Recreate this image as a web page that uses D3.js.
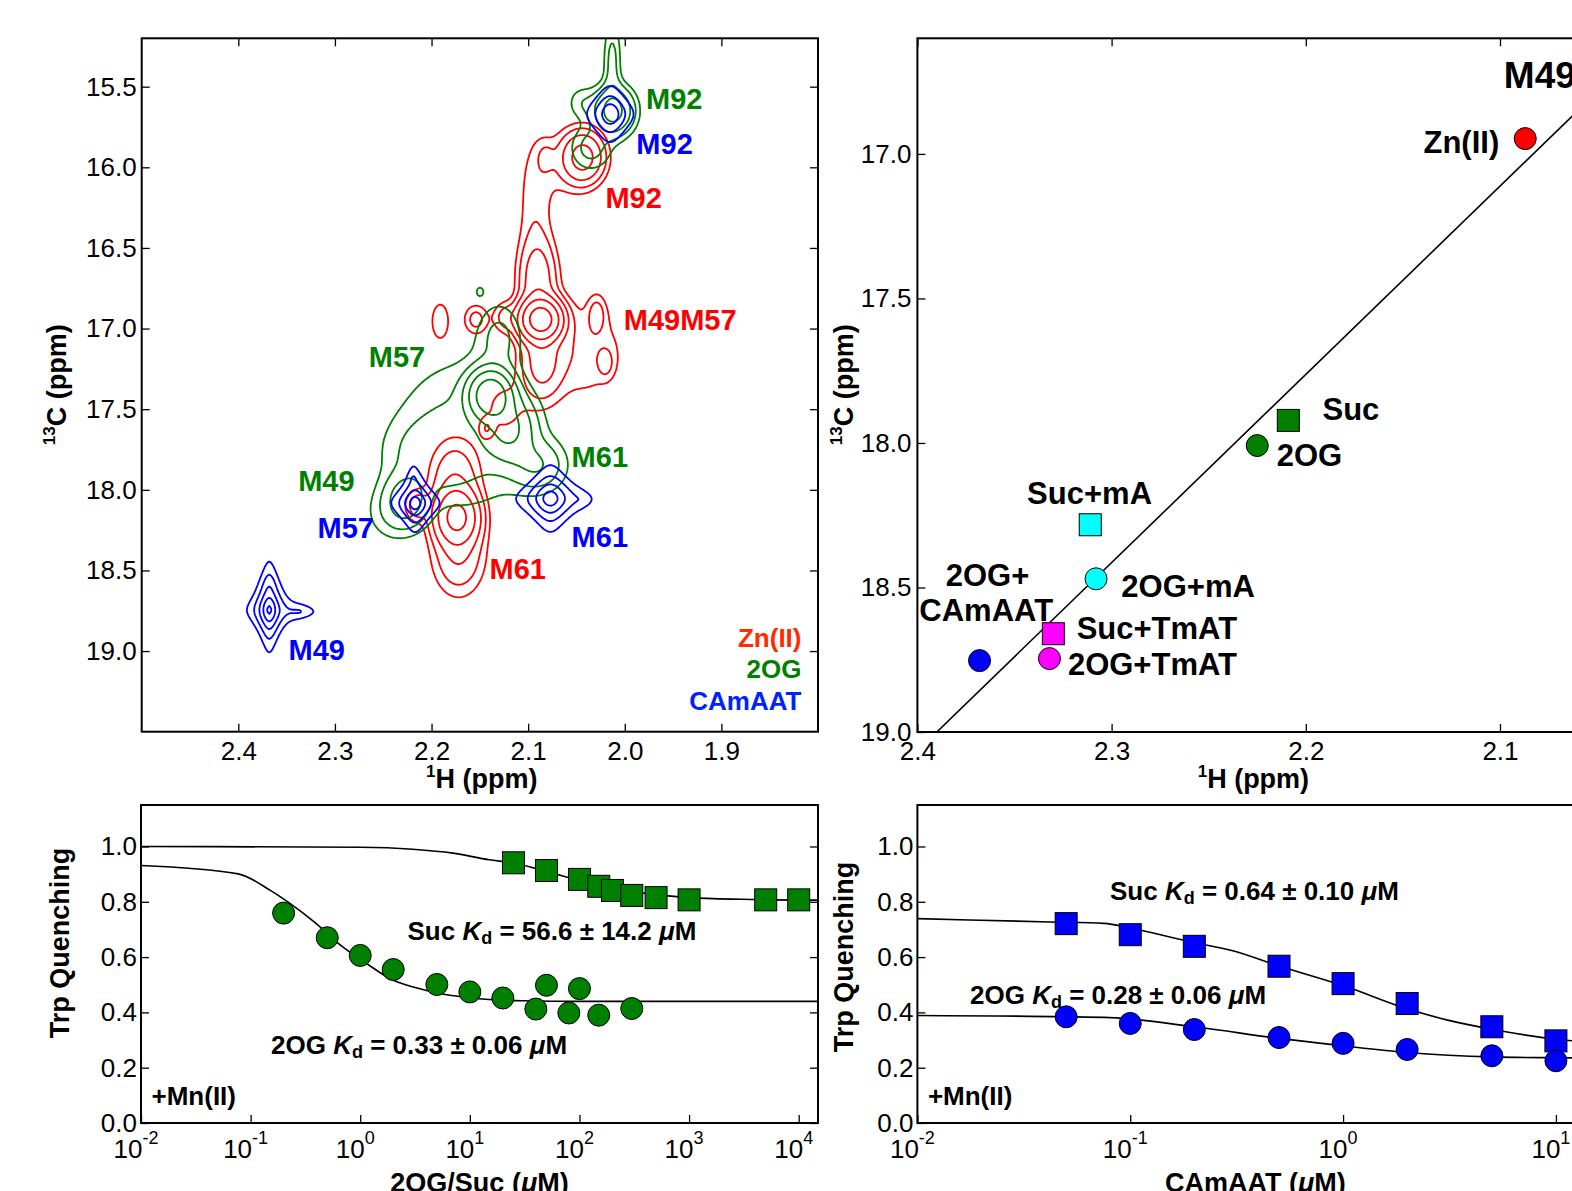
<!DOCTYPE html>
<html>
<head>
<meta charset="utf-8">
<script src="https://cdn.jsdelivr.net/npm/d3@7"></script>
<style>
body { margin: 0; background: #fff; }
text { font-family: "Liberation Sans", Arial, Helvetica, sans-serif; }
</style>
</head>
<body>
<script>
// ---------------- data ----------------
// HMQC peaks: [1H ppm, 13C ppm, height, 1H width, 13C width]
var znPeaks = [
  [2.087, 16.944, 45, 0.0122, 0.074],
  [2.090, 16.700, 6, 0.012, 0.16],
  [2.086, 17.200, 5, 0.013, 0.15],
  [2.093, 16.250, 1.6, 0.012, 0.30],
  [2.043, 15.937, 10, 0.013, 0.095],
  [2.060, 15.980, 1.3, 0.020, 0.15],
  [2.082, 15.937, 1.4, 0.006, 0.062],
  [2.191, 16.955, 1.5, 0.009, 0.115],
  [2.154, 16.944, 2.6, 0.0083, 0.062],
  [2.124, 16.930, 2.5, 0.008, 0.062],
  [2.029, 16.910, 2.3, 0.006, 0.075],
  [2.020, 17.210, 2.2, 0.005, 0.056],
  [2.046, 17.140, 1.8, 0.034, 0.21],
  [2.143, 17.620, 1.5, 0.005, 0.043],
  [2.174, 18.170, 18, 0.0134, 0.10],
  [2.172, 18.400, 4, 0.017, 0.16],
  [2.176, 17.930, 3.5, 0.017, 0.16],
  [2.215, 18.100, 3, 0.008, 0.062],
  [2.125, 17.500, 1.2, 0.02, 0.15]
];
var ogPeaks = [
  [2.012, 15.650, 10, 0.013, 0.09],
  [2.013, 15.350, 2.5, 0.006, 0.18],
  [2.035, 15.880, 2.6, 0.014, 0.09],
  [2.045, 15.600, 1.6, 0.010, 0.07],
  [2.139, 17.415, 26, 0.013, 0.09],
  [2.120, 17.620, 8, 0.016, 0.12],
  [2.090, 17.850, 3.5, 0.018, 0.10],
  [2.226, 18.058, 5, 0.014, 0.10],
  [2.165, 17.650, 2.4, 0.050, 0.32],
  [2.130, 17.050, 2.2, 0.015, 0.14],
  [2.240, 18.150, 1.5, 0.020, 0.12],
  [2.200, 17.780, 2.0, 0.030, 0.14],
  [2.150, 16.770, 1.2, 0.004, 0.03]
];
var camPeaks = [
  [2.368, 18.745, 18, 0.0052, 0.062],
  [2.337, 18.755, 1.6, 0.014, 0.035],
  [2.368, 18.600, 1.2, 0.006, 0.08],
  [2.217, 18.083, 12, 0.0072, 0.053],
  [2.219, 17.930, 1.0, 0.004, 0.06],
  [2.077, 18.054, 12, 0.0103, 0.062],
  [2.045, 18.060, 0.7, 0.01, 0.04],
  [2.015, 15.670, 7, 0.0098, 0.071]
];
var contourLevels = [1, 2, 4, 8, 16, 32];

var peakLabelText = ["M92", "M92", "M92", "M49M57", "M57", "M61", "M49", "M57", "M61", "M61", "M49"];
var peakLabelSeries = ["2OG", "CAmAAT", "Zn(II)", "Zn(II)", "2OG", "2OG", "2OG", "CAmAAT", "CAmAAT", "Zn(II)", "CAmAAT"];
var peakLabelH = [1.978, 1.988, 2.020, 2.001, 2.265, 2.055, 2.338, 2.318, 2.055, 2.140, 2.348];
var peakLabelC = [15.639, 15.917, 16.251, 17.006, 17.241, 17.860, 18.009, 18.300, 18.355, 18.553, 19.054];
var spectrumNames = ["Zn(II)", "2OG", "CAmAAT"];

// M49 methyl shifts
var shiftNames = ["Zn(II)", "Suc", "2OG", "Suc+mA", "2OG+mA", "Suc+TmAT", "2OG+TmAT", "2OG+CAmAAT"];
var shiftH = [2.087, 2.209, 2.225, 2.311, 2.308, 2.330, 2.332, 2.368];
var shiftC = [16.947, 17.922, 18.009, 18.283, 18.470, 18.660, 18.746, 18.753];
var shiftLabelText = ["Zn(II)", "Suc", "2OG", "Suc+mA", "2OG+mA", "Suc+TmAT", "2OG+TmAT", "2OG+", "CAmAAT"];
var shiftLabelH = [2.1394, 2.1914, 2.215, 2.3435, 2.295, 2.318, 2.3225, 2.3854, 2.399];
var shiftLabelC = [16.997, 17.922, 18.081, 18.210, 18.533, 18.678, 18.802, 18.494, 18.617];
var fitLineH = [2.39, 2.05];
var fitLineC = [19.0, 16.786];

// Trp quenching titrations (+Mn(II))
var ogConc = [0.2, 0.5, 1, 2, 5, 10, 20, 40, 50, 80, 100, 150, 300];
var ogQuench = [0.759, 0.670, 0.606, 0.555, 0.501, 0.474, 0.452, 0.412, 0.498, 0.398, 0.486, 0.390, 0.414];
var sucConc = [25, 50, 100, 150, 200, 300, 500, 1000, 5000, 10000];
var sucQuench = [0.941, 0.913, 0.881, 0.856, 0.841, 0.823, 0.815, 0.807, 0.807, 0.807];
var ogFitConc = [0.01, 0.077, 0.15, 0.23, 0.38, 0.66, 1.15, 2, 3.3, 5.3, 10, 30, 100, 1000, 15000];
var ogFitQ = [0.931, 0.901, 0.842, 0.793, 0.727, 0.643, 0.576, 0.516, 0.488, 0.468, 0.453, 0.442, 0.440, 0.440, 0.440];
var sucFitConc = [0.01, 1, 3, 7, 15, 25, 50, 100, 200, 500, 1000, 3000, 15000];
var sucFitQ = [1.0, 0.997, 0.99, 0.976, 0.952, 0.940, 0.910, 0.876, 0.848, 0.826, 0.815, 0.809, 0.806];

var camConc = [0.05, 0.1, 0.2, 0.5, 1, 2, 5, 10];
var camSucQuench = [0.721, 0.681, 0.639, 0.567, 0.504, 0.432, 0.348, 0.297];
var camOgQuench = [0.384, 0.360, 0.338, 0.309, 0.288, 0.266, 0.243, 0.225];
var camSucFitConc = [0.01, 0.042, 0.0755, 0.1, 0.2, 0.3, 0.5, 1, 2, 3.1, 5, 10, 15];
var camSucFitQ = [0.739, 0.727, 0.722, 0.705, 0.652, 0.624, 0.568, 0.497, 0.413, 0.372, 0.339, 0.303, 0.292];
var camOgFitConc = [0.01, 0.0755, 0.2, 0.5, 1, 2, 5, 10, 15];
var camOgFitQ = [0.389, 0.382, 0.348, 0.306, 0.279, 0.255, 0.239, 0.236, 0.235];

// ---------------- styles ----------------
var seriesColor = {"Zn(II)": "#ff0000", "2OG": "#008000", "CAmAAT": "#0000ff"};
var legendColor = {"Zn(II)": "#ff2a00", "2OG": "#008000", "CAmAAT": "#0022ff"};
var shiftFill = {"Zn(II)": "#ff0000", "Suc": "#008000", "2OG": "#008000", "Suc+mA": "#00ffff", "2OG+mA": "#00ffff",
                 "Suc+TmAT": "#ff00ff", "2OG+TmAT": "#ff00ff", "2OG+CAmAAT": "#0000ff"};

var svg = d3.select("body").append("svg")
    .attr("width", 1572)
    .attr("height", 1191);

var tickFont = 26;

function frame(g, w, h) {
  g.append("rect").attr("width", w).attr("height", h)
    .attr("fill", "none").attr("stroke", "#000").attr("stroke-width", 2);
}

// inward ticks
function ticksIn(g, axis, tr) {
  var a = g.append("g").attr("transform", tr || null).call(axis);
  a.select(".domain").remove();
  a.attr("font-size", tickFont).attr("font-family", null);
  a.selectAll("line").attr("stroke-width", 1.3);
  return a;
}

function rotLabel(g, x, y, parts) {
  var t = g.append("text").attr("transform", "translate(" + x + "," + y + ") rotate(-90)")
    .attr("text-anchor", "middle").attr("font-size", 27).attr("font-weight", "bold");
  parts(t);
}

function supText(t, sup, rest) {
  t.append("tspan").attr("font-size", 17).attr("dy", -11).text(sup);
  t.append("tspan").attr("dy", 11).text(rest);
}

// ================= top-left: HMQC overlay =================
var tl = {x0: 141.7, y0: 38.3, w: 676.3, h: 693.4};
var g1 = svg.append("g").attr("transform", "translate(" + tl.x0 + "," + tl.y0 + ")");
var xH = d3.scaleLinear().domain([2.5, 1.8]).range([0, tl.w]);
var yC = d3.scaleLinear().domain([15.2, 19.5]).range([0, tl.h]);

svg.append("clipPath").attr("id", "clip1").append("rect").attr("width", tl.w).attr("height", tl.h);

var hMin = 1.75, dh = 0.002, nx = 401, cMin = 15.0, dc = 0.01, ny = 471;

// gaussian peaks, or rounded lorentzian (diamond-like) peaks
function gridValues(peaks, lor) {
  var vals = new Array(nx * ny);
  for (var j = 0; j < ny; j++) {
    var c = cMin + j * dc;
    for (var i = 0; i < nx; i++) {
      var h = hMin + i * dh, s = 0;
      for (var k = 0; k < peaks.length; k++) {
        var p = peaks[k], u = (h - p[0]) / p[3], v = (c - p[1]) / p[4];
        var uu = u * u, vv = v * v;
        s += lor ? p[2] / (1 + uu + vv + 0.35 * uu * vv) : p[2] * Math.exp(-0.5 * (uu + vv));
      }
      vals[j * nx + i] = s;
    }
  }
  return vals;
}

var gridPath = d3.geoPath(d3.geoTransform({
  point: function(px, py) {
    this.stream.point(xH(hMin + (px - 0.5) * dh), yC(cMin + (py - 0.5) * dc));
  }
}));

var spectra = [
  {name: "Zn(II)", peaks: znPeaks, lor: false},
  {name: "2OG", peaks: ogPeaks, lor: false},
  {name: "CAmAAT", peaks: camPeaks, lor: true}
];

var cg = g1.append("g").attr("clip-path", "url(#clip1)");
spectra.forEach(function(s) {
  var cs = d3.contours().size([nx, ny]).thresholds(contourLevels)(gridValues(s.peaks, s.lor));
  cg.append("g").selectAll("path")
    .data(cs)
    .enter().append("path")
    .attr("d", gridPath)
    .attr("fill", "none")
    .attr("stroke", seriesColor[s.name])
    .attr("stroke-width", 1.8)
    .attr("stroke-linejoin", "round");
});

g1.selectAll(".plab")
  .data(peakLabelText)
  .enter().append("text")
  .attr("x", (d, i) => xH(peakLabelH[i]))
  .attr("y", (d, i) => yC(peakLabelC[i]))
  .attr("font-size", 29).attr("font-weight", "bold")
  .attr("fill", (d, i) => seriesColor[peakLabelSeries[i]])
  .text(d => d);

g1.selectAll(".leg")
  .data(spectrumNames)
  .enter().append("text")
  .attr("x", tl.w - 16.5)
  .attr("y", (d, i) => 608.4 + i * 31.6)
  .attr("text-anchor", "end")
  .attr("font-size", 26).attr("font-weight", "bold")
  .attr("fill", d => legendColor[d])
  .text(d => d);

ticksIn(g1, d3.axisBottom(xH).tickValues([2.4, 2.3, 2.2, 2.1, 2.0, 1.9]).tickSizeInner(-8).tickSizeOuter(0).tickPadding(10).tickFormat(d3.format(".1f")), "translate(0," + tl.h + ")");
ticksIn(g1, d3.axisTop(xH).tickValues([2.4, 2.3, 2.2, 2.1, 2.0, 1.9]).tickSizeInner(-8).tickSizeOuter(0).tickFormat(""));
ticksIn(g1, d3.axisLeft(yC).tickValues([15.5, 16.0, 16.5, 17.0, 17.5, 18.0, 18.5, 19.0]).tickSizeInner(-8).tickSizeOuter(0).tickPadding(5).tickFormat(d3.format(".1f")));
ticksIn(g1, d3.axisRight(yC).tickValues([15.5, 16.0, 16.5, 17.0, 17.5, 18.0, 18.5, 19.0]).tickSizeInner(-8).tickSizeOuter(0).tickFormat(""), "translate(" + tl.w + ",0)");
frame(g1, tl.w, tl.h);

var t1 = g1.append("text").attr("x", tl.w / 2 + 2).attr("y", 749.5).attr("text-anchor", "middle")
  .attr("font-size", 27).attr("font-weight", "bold");
supText(t1, "1", "H (ppm)");
rotLabel(g1, -75.5, 346.5, function(t) { supText(t, "13", "C (ppm)"); });

// ================= top-right: M49 shifts =================
var tr = {x0: 917.4, y0: 38.3, w: 676, h: 693.7};
var g2 = svg.append("g").attr("transform", "translate(" + tr.x0 + "," + tr.y0 + ")");
var xS = d3.scaleLinear().domain([2.4, 2.0519]).range([0, tr.w]);
var yS = d3.scaleLinear().domain([16.6, 19.0]).range([0, tr.h]);
svg.append("clipPath").attr("id", "clip2").append("rect").attr("width", tr.w).attr("height", tr.h);

var pg = g2.append("g").attr("clip-path", "url(#clip2)");
pg.append("path")
  .datum(fitLineH.map((h, i) => [h, fitLineC[i]]))
  .attr("d", d3.line().x(d => xS(d[0])).y(d => yS(d[1])))
  .attr("stroke", "#000").attr("stroke-width", 1.6).attr("fill", "none");

var shiftIsSquare = shiftNames.map(n => n.indexOf("Suc") === 0);
pg.selectAll(".sq")
  .data(shiftNames.filter((n, i) => shiftIsSquare[i]))
  .enter().append("rect")
  .attr("x", d => xS(shiftH[shiftNames.indexOf(d)]) - 11)
  .attr("y", d => yS(shiftC[shiftNames.indexOf(d)]) - 11)
  .attr("width", 22).attr("height", 22)
  .attr("fill", d => shiftFill[d]).attr("stroke", "#000").attr("stroke-width", 1);
pg.selectAll(".ci")
  .data(shiftNames.filter((n, i) => !shiftIsSquare[i]))
  .enter().append("circle")
  .attr("cx", d => xS(shiftH[shiftNames.indexOf(d)]))
  .attr("cy", d => yS(shiftC[shiftNames.indexOf(d)]))
  .attr("r", 11)
  .attr("fill", d => shiftFill[d]).attr("stroke", "#000").attr("stroke-width", 1);

g2.selectAll(".slab")
  .data(shiftLabelText)
  .enter().append("text")
  .attr("x", (d, i) => xS(shiftLabelH[i]))
  .attr("y", (d, i) => yS(shiftLabelC[i]))
  .attr("font-size", 31).attr("font-weight", "bold")
  .text(d => d);
g2.append("text").attr("x", xS(2.098)).attr("y", yS(16.772))
  .attr("font-size", 37).attr("font-weight", "bold").text("M49");

ticksIn(g2, d3.axisBottom(xS).tickValues([2.4, 2.3, 2.2, 2.1]).tickSizeInner(-8).tickSizeOuter(0).tickPadding(10).tickFormat(d3.format(".1f")), "translate(0," + tr.h + ")");
ticksIn(g2, d3.axisTop(xS).tickValues([2.4, 2.3, 2.2, 2.1]).tickSizeInner(-8).tickSizeOuter(0).tickFormat(""));
ticksIn(g2, d3.axisLeft(yS).tickValues([17.0, 17.5, 18.0, 18.5, 19.0]).tickSizeInner(-8).tickSizeOuter(0).tickPadding(6).tickFormat(d3.format(".1f")));
frame(g2, tr.w, tr.h);

var t2 = g2.append("text").attr("x", 336).attr("y", 749.5).attr("text-anchor", "middle")
  .attr("font-size", 27).attr("font-weight", "bold");
supText(t2, "1", "H (ppm)");
rotLabel(g2, -64.5, 346.5, function(t) { supText(t, "13", "C (ppm)"); });

// ================= bottom: titrations =================
function titration(box, domainX, decades, series, notes, xlabel, ylabelY) {
  var g = svg.append("g").attr("transform", "translate(" + box.x0 + "," + box.y0 + ")");
  var x = d3.scaleLog().domain(domainX).range([0, box.w]);
  var y = d3.scaleLinear().domain([0, 1.15]).range([box.h, 0]);
  var id = "clipb" + Math.round(box.x0);
  svg.append("clipPath").attr("id", id).append("rect").attr("width", box.w).attr("height", box.h);
  var pg = g.append("g").attr("clip-path", "url(#" + id + ")");

  series.forEach(function(s) {
    pg.append("path")
      .datum(s.fitX.map((c, i) => [c, s.fitY[i]]))
      .attr("d", d3.line().x(d => x(d[0])).y(d => y(d[1])).curve(d3.curveMonotoneX))
      .attr("fill", "none").attr("stroke", "#000").attr("stroke-width", 1.6);
  });
  series.forEach(function(s) {
    if (s.square) {
      pg.selectAll(null).data(s.x).enter().append("rect")
        .attr("x", (d, i) => x(d) - 11).attr("y", (d, i) => y(s.y[i]) - 11)
        .attr("width", 22).attr("height", 22)
        .attr("fill", s.color).attr("stroke", "#000").attr("stroke-width", 1);
    } else {
      pg.selectAll(null).data(s.x).enter().append("circle")
        .attr("cx", d => x(d)).attr("cy", (d, i) => y(s.y[i])).attr("r", 11)
        .attr("fill", s.color).attr("stroke", "#000").attr("stroke-width", 1);
    }
  });

  notes.forEach(function(n) {
    var t = g.append("text").attr("x", n.x).attr("y", n.y).attr("font-size", 26).attr("font-weight", "bold");
    t.append("tspan").text(n.name + " ");
    t.append("tspan").attr("font-style", "italic").text("K");
    t.append("tspan").attr("font-size", 18).attr("dy", 4).text("d");
    t.append("tspan").attr("dy", -4).text(" = " + n.kd + " ");
    t.append("tspan").attr("font-style", "italic").text("\u03bc");
    t.append("tspan").text("M");
  });
  g.append("text").attr("x", 10.5).attr("y", box.h - 18).attr("font-size", 26).attr("font-weight", "bold").text("+Mn(II)");

  ticksIn(g, d3.axisBottom(x).tickValues(decades).tickSizeInner(-8).tickSizeOuter(0).tickFormat(""), "translate(0," + box.h + ")");
  ticksIn(g, d3.axisLeft(y).tickValues([0, 0.2, 0.4, 0.6, 0.8, 1.0]).tickSizeInner(-8).tickSizeOuter(0).tickPadding(4).tickFormat(d3.format(".1f")));
  ticksIn(g, d3.axisRight(y).tickValues([0, 0.2, 0.4, 0.6, 0.8, 1.0]).tickSizeInner(-8).tickSizeOuter(0).tickFormat(""), "translate(" + box.w + ",0)");
  g.selectAll(".dec").data(decades).enter().append("text")
    .attr("x", d => x(d) - 5).attr("y", box.h + 35)
    .attr("text-anchor", "middle").attr("font-size", tickFont)
    .each(function(d) {
      var t = d3.select(this);
      t.append("tspan").text("10");
      t.append("tspan").attr("font-size", 18).attr("dy", -14).text(Math.round(Math.log10(d)));
    });
  frame(g, box.w, box.h);

  var xl = g.append("text").attr("x", box.w / 2).attr("y", box.h + 69).attr("text-anchor", "middle")
    .attr("font-size", 27).attr("font-weight", "bold");
  xl.append("tspan").text(xlabel + " (");
  xl.append("tspan").attr("font-style", "italic").text("\u03bc");
  xl.append("tspan").text("M)");
  rotLabel(g, box.x0 > 500 ? -64 : -72, ylabelY - box.y0, function(t) { t.text("Trp Quenching"); });
}

titration({x0: 141, y0: 805, w: 677, h: 318}, [0.01, 15000], [1e-2, 1e-1, 1, 10, 100, 1000, 10000],
  [
    {x: sucConc, y: sucQuench, fitX: sucFitConc, fitY: sucFitQ, square: true, color: "#008000"},
    {x: ogConc, y: ogQuench, fitX: ogFitConc, fitY: ogFitQ, square: false, color: "#008000"}
  ],
  [{name: "Suc", kd: "56.6 \u00b1 14.2", x: 266.5, y: 135}, {name: "2OG", kd: "0.33 \u00b1 0.06", x: 130, y: 249.3}],
  "2OG/Suc", 943);

titration({x0: 917.4, y0: 805, w: 676, h: 318}, [0.01, 15], [1e-2, 1e-1, 1, 10],
  [
    {x: camConc, y: camSucQuench, fitX: camSucFitConc, fitY: camSucFitQ, square: true, color: "#0000ff"},
    {x: camConc, y: camOgQuench, fitX: camOgFitConc, fitY: camOgFitQ, square: false, color: "#0000ff"}
  ],
  [{name: "Suc", kd: "0.64 \u00b1 0.10", x: 192.6, y: 95}, {name: "2OG", kd: "0.28 \u00b1 0.06", x: 52.6, y: 199.3}],
  "CAmAAT", 957);
</script>
</body>
</html>
